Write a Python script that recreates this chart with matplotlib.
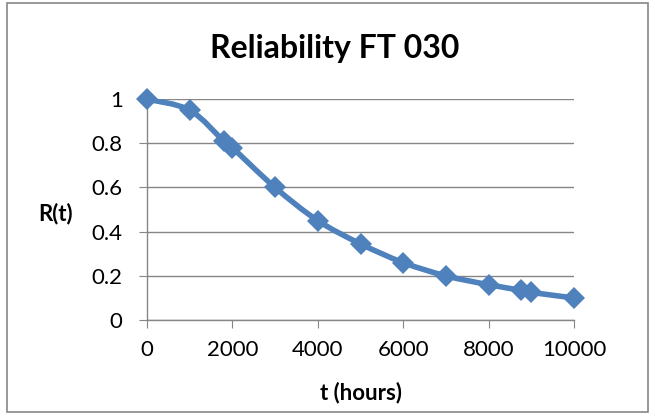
import numpy as np
import matplotlib.pyplot as plt
from matplotlib.path import Path
from matplotlib.patches import PathPatch, Rectangle

# reliability data, FT 030
t_hours = [0, 1000, 1800, 2000, 3000, 4000, 5000, 6000, 7000, 8000, 8750, 9000, 10000]
r_t = [1.0, 0.95, 0.81, 0.78, 0.60, 0.45, 0.345, 0.26, 0.20, 0.16, 0.135, 0.125, 0.10]

x_ticks = [0, 2000, 4000, 6000, 8000, 10000]
y_ticks = [0, 0.2, 0.4, 0.6, 0.8, 1]
y_ticklabels = ['0', '0.2', '0.4', '0.6', '0.8', '1']

blue = '#4F81BD'
grid_col = '#868686'

plt.rcParams['font.family'] = ['Lato', 'DejaVu Sans']


def smooth_path(x, y, tension=1/6):
    # cubic bezier through the points (catmull-rom style), like a smoothed line
    x = np.asarray(x, float)
    y = np.asarray(y, float)
    verts = [(x[0], y[0])]
    codes = [Path.MOVETO]
    n = len(x)
    for i in range(n - 1):
        p0 = (x[max(i - 1, 0)], y[max(i - 1, 0)])
        p1 = (x[i], y[i])
        p2 = (x[i + 1], y[i + 1])
        p3 = (x[min(i + 2, n - 1)], y[min(i + 2, n - 1)])
        c1 = (p1[0] + (p2[0] - p0[0]) * tension, p1[1] + (p2[1] - p0[1]) * tension)
        c2 = (p2[0] - (p3[0] - p1[0]) * tension, p2[1] - (p3[1] - p1[1]) * tension)
        verts += [c1, c2, p2]
        codes += [Path.CURVE4] * 3
    return Path(verts, codes)


fig = plt.figure(figsize=(6.55, 4.2), dpi=100)
ax = fig.add_axes([0.2244, 0.238, 0.6520, 0.526])

# outer chart border
fig.patches.append(Rectangle((0.011, 0.018), 0.978, 0.974, transform=fig.transFigure,
                             fill=False, edgecolor='#868686', linewidth=1.2))

ax.set_xlim(0, 10000)
ax.set_ylim(0, 1)
ax.set_xticks(x_ticks)
ax.set_yticks(y_ticks)
ax.set_yticklabels(y_ticklabels)
ax.tick_params(axis='both', direction='out', length=5.5, color=grid_col,
               labelsize=16)
ax.tick_params(axis='x', pad=9)
ax.tick_params(axis='y', pad=12)

ax.grid(axis='y', color=grid_col, linewidth=1)
ax.set_axisbelow(True)
for side in ['top', 'right']:
    ax.spines[side].set_visible(False)
for side in ['left', 'bottom']:
    ax.spines[side].set_color(grid_col)
    ax.spines[side].set_linewidth(1)

line = PathPatch(smooth_path(t_hours, r_t), facecolor='none', edgecolor=blue,
                 linewidth=4, capstyle='round', joinstyle='round', zorder=3)
ax.add_patch(line)
ax.plot(t_hours, r_t, linestyle='none', marker='D', markersize=11,
        color=blue, markeredgewidth=0, zorder=4, clip_on=False)

fig.text(0.5115, 0.862, 'Reliability FT 030', fontsize=23, fontweight='bold',
         ha='center', va='baseline')
ax.set_xlabel('t (hours)', fontsize=16, fontweight='bold', va='baseline')
ax.xaxis.set_label_coords(0.5, -0.357)
ax.set_ylabel('R(t)', fontsize=16, fontweight='bold', rotation=0,
              ha='center', va='center')
ax.yaxis.set_label_coords(-0.215, 0.48)

fig.savefig('out.png', dpi=100)
